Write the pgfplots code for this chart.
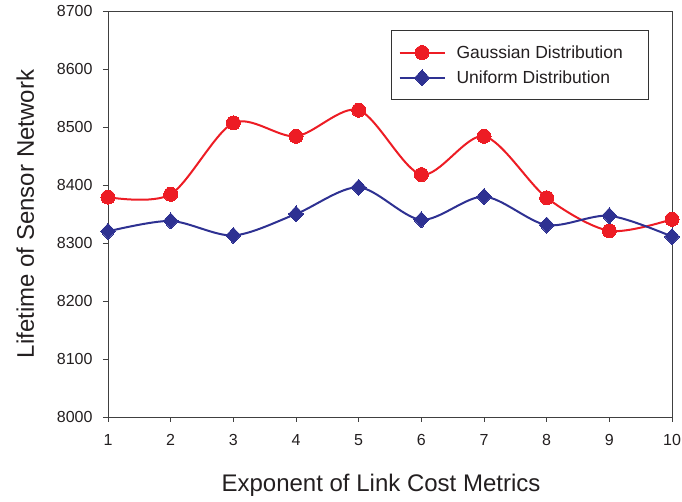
\documentclass[border=0pt]{standalone}
\usepackage{pgfplots}
\pgfplotsset{compat=1.18}
\usepackage{fontspec}
\setmainfont{Liberation Sans}
\definecolor{gred}{RGB}{237,28,36}
\definecolor{ublue}{RGB}{46,49,146}
\definecolor{txt}{RGB}{35,31,32}
\begin{document}
\begin{tikzpicture}[x=1pt,y=1pt]
\begin{axis}[
  at={(0,0)}, anchor=south west,
  scale only axis, width=564pt, height=406pt,
  xmin=1, xmax=10, ymin=8000, ymax=8700,
  xtick={1,...,10}, ytick={8000,8100,...,8700},
  axis line style={draw=black!75, line width=0.8pt},
  tick style={black!75, line width=0.8pt},
  tick align=outside, major tick length=5pt,
  xtick pos=bottom, ytick pos=left,
  ticklabel style={font=\fontsize{16}{18}\selectfont, text=txt},
  /pgf/number format/assume math mode=true,
  /pgf/number format/1000 sep={},
  yticklabel style={xshift=-7pt},
  xticklabel style={yshift=-9pt},
  xlabel={Exponent of Link Cost Metrics},
  ylabel={Lifetime of Sensor Network},
  label style={font=\fontsize{24}{28}\selectfont, text=txt},
  xlabel style={yshift=-21pt, xshift=-9pt},
  ylabel style={yshift=16pt},
  legend style={at={(0.502,0.953)}, anchor=north west, draw=black!80, line width=0.8pt,
    font=\fontsize{17.5}{20}\selectfont, text=txt, inner xsep=7pt, inner ysep=13pt,
    row sep=7pt, /tikz/every odd column/.append style={column sep=9pt}},
  legend cell align=left,
  legend image code/.code={\draw[#1] (0pt,0pt) -- (45pt,0pt); \draw[#1, mark repeat=1] plot coordinates {(22.5pt,0pt)};},
]
\addplot[gred, line width=2pt, smooth, tension=0.5, mark=*, mark size=7pt, mark options={fill=gred, draw=gred, line width=0pt}]
coordinates {(1,8379) (2,8384) (3,8507) (4,8484) (5,8529) (6,8418) (7,8484) (8,8378) (9,8321) (10,8341)};
\addlegendentry{Gaussian Distribution\hspace*{17pt}}
\addplot[ublue, line width=2pt, smooth, tension=0.5, mark=diamond*, mark size=8pt, mark options={fill=ublue, draw=ublue, line width=0pt, xscale=1.25}]
coordinates {(1,8320) (2,8338) (3,8313) (4,8350) (5,8396) (6,8340) (7,8380) (8,8331) (9,8347) (10,8311)};
\addlegendentry{Uniform Distribution}
\end{axis}
\pgfresetboundingbox
\path (-108,-85) rectangle (574,417);
\end{tikzpicture}
\end{document}
